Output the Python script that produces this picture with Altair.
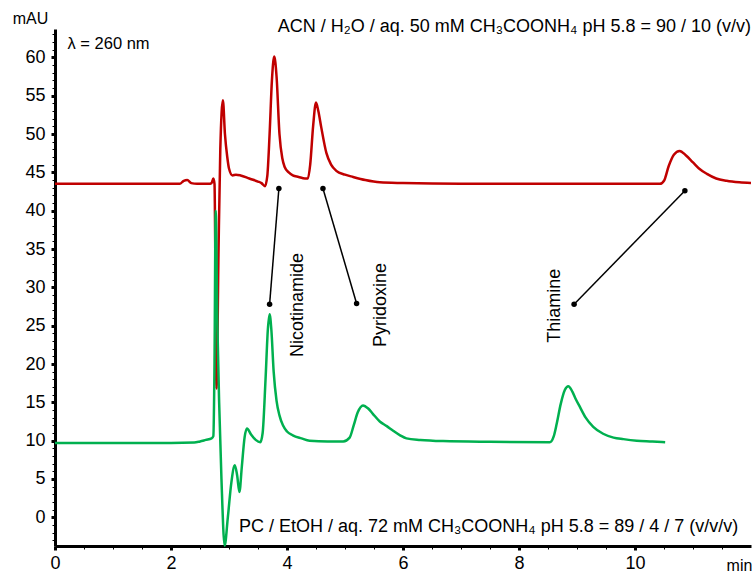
import altair as alt
import pandas as pd

# ---- data ----
red_t = [0.0, 1.0, 2.0, 2.15, 2.22, 2.28, 2.35, 2.45, 2.65, 2.70, 2.73, 2.75, 2.785, 2.82, 2.85, 2.895,
         2.93, 2.97, 3.0, 3.06, 3.12, 3.2, 3.35, 3.5, 3.56, 3.62, 3.66, 3.70, 3.74, 3.78, 3.82, 3.87,
         3.92, 3.96, 4.03, 4.10, 4.2, 4.31, 4.36, 4.40, 4.45, 4.50, 4.54, 4.59, 4.68, 4.76, 4.85, 5.0,
         5.14, 5.35, 5.6, 6.0, 7.0, 8.0, 9.0, 10.0, 10.43, 10.5, 10.58, 10.67, 10.77, 10.88, 11.0,
         11.12, 11.24, 11.4, 11.58, 11.8, 12.0]
red_v = [43.5, 43.5, 43.5, 43.5, 43.9, 44.0, 43.6, 43.5, 43.5, 43.6, 44.2, 43.5, 16.8, 35.0, 48.0, 54.4,
         50.0, 47.0, 45.5, 44.6, 44.7, 44.6, 44.2, 43.8, 43.6, 43.2, 44.5, 50.0, 57.0, 60.1, 57.5, 50.0,
         46.8, 45.7, 45.0, 44.6, 44.4, 44.2, 44.2, 46.0, 51.0, 54.1, 53.0, 50.9, 47.5, 46.0, 45.2, 44.7,
         44.4, 44.0, 43.7, 43.6, 43.5, 43.5, 43.5, 43.5, 43.5, 43.9, 45.8, 47.3, 47.8, 47.2, 46.3,
         45.4, 44.8, 44.2, 43.9, 43.7, 43.6]

green_t = [0.0, 1.0, 2.0, 2.4, 2.5, 2.6, 2.7, 2.73, 2.75, 2.77, 2.80, 2.83, 2.87, 2.925, 2.98, 3.04,
           3.10, 3.14, 3.18, 3.22, 3.27, 3.31, 3.38, 3.46, 3.54, 3.58, 3.63, 3.67, 3.70, 3.73, 3.77,
           3.82, 3.87, 3.93, 4.0, 4.10, 4.25, 4.39, 4.7, 4.97, 5.08, 5.15, 5.22, 5.31, 5.40, 5.48, 5.6,
           5.72, 5.83, 5.95, 6.06, 6.3, 6.69, 7.5, 8.53, 8.60, 8.65, 8.72, 8.79, 8.85, 8.92, 8.98, 9.05,
           9.15, 9.28, 9.45, 9.63, 9.8, 10.03, 10.3, 10.52]
green_v = [9.7, 9.7, 9.7, 9.75, 9.9, 10.1, 10.3, 10.6, 20.0, 40.0, 25.0, 15.0, 5.0, -3.7, 0.0, 4.5,
           6.8, 5.5, 3.3, 6.5, 10.5, 11.6, 10.8, 10.1, 9.8, 11.0, 18.0, 24.5, 26.5, 24.5, 19.0,
           15.2, 13.3, 12.0, 11.2, 10.7, 10.3, 10.0, 9.9, 9.9, 10.4, 12.0, 13.7, 14.6, 14.2, 13.5, 12.5,
           11.9, 11.3, 10.7, 10.3, 10.1, 9.95, 9.85, 9.8, 10.6, 12.2, 14.8, 16.6, 17.1, 16.4, 15.4, 14.4,
           13.0, 11.8, 10.9, 10.4, 10.2, 10.0, 9.9, 9.8]

compounds = ["Nicotinamide", "Pyridoxine", "Thiamine"]
lead_x1 = [3.86, 4.62, 10.86]
lead_y1 = [42.9, 42.9, 42.6]
lead_x2 = [3.70, 5.20, 8.95]
lead_y2 = [27.8, 27.9, 27.8]
label_x = [4.27, 5.70, 8.71]
label_y = [27.7, 27.7, 27.6]

x_major = [0, 2, 4, 6, 8, 10]
x_minor = [0.5, 1, 1.5, 2.5, 3, 3.5, 4.5, 5, 5.5, 6.5, 7, 7.5, 8.5, 9, 9.5, 10.5, 11, 11.5]
y_major = [0, 5, 10, 15, 20, 25, 30, 35, 40, 45, 50, 55, 60]
y_minor = [v for v in range(-3, 64) if v % 5 != 0]

top_note = "ACN / H₂O / aq. 50 mM CH₃COONH₄ pH 5.8 = 90 / 10 (v/v)"
bottom_note = "PC / EtOH / aq. 72 mM CH₃COONH₄ pH 5.8 = 89 / 4 / 7 (v/v/v)"
lambda_note = "λ = 260 nm"

FONT = "Liberation Sans"
X = alt.Scale(domain=[0, 12], nice=False, zero=False)
Y = alt.Scale(domain=[-3.74, 63.7], nice=False, zero=False)

red_df = pd.DataFrame({"t": red_t, "v": red_v})
green_df = pd.DataFrame({"t": green_t, "v": green_v})
lead_df = pd.DataFrame({"c": compounds, "x1": lead_x1, "y1": lead_y1, "x2": lead_x2, "y2": lead_y2})
lab_df = pd.DataFrame({"c": compounds, "x": label_x, "y": label_y})

red = alt.Chart(red_df).mark_line(color="#c00000", strokeWidth=2.5, interpolate="monotone").encode(
    x=alt.X("t:Q", scale=X, axis=alt.Axis(values=x_major, title="min", orient="bottom",
            domainWidth=3, domainColor="black", tickColor="black", tickWidth=3, tickSize=4,
            labelPadding=4, labelFontSize=18, labelFont=FONT, labelColor="black", grid=False,
            labelFlush=False, labelOverlap=False,
            titleFont=FONT, titleFontSize=16, titleFontWeight="normal", titleColor="black",
            titleAnchor="start", titleX=684, titleY=24, titleAlign="center", titleBaseline="alphabetic")),
    y=alt.Y("v:Q", scale=Y, axis=alt.Axis(values=y_major, title="mAU", orient="left",
            domainWidth=3, domainColor="black", tickColor="black", tickWidth=3, tickSize=4,
            labelPadding=6, labelFontSize=18, labelFont=FONT, labelColor="black", grid=False,
            labelFlush=False, labelOverlap=False,
            titleFont=FONT, titleFontSize=16, titleFontWeight="normal", titleColor="black",
            titleAngle=0, titleX=-25, titleY=-6, titleAlign="center", titleBaseline="alphabetic")),
)

green = alt.Chart(green_df).mark_line(color="#00b04f", strokeWidth=2.5, interpolate="monotone").encode(
    x=alt.X("t:Q", scale=X, axis=alt.Axis(values=x_minor, orient="bottom", title=None, labels=False,
            domain=False, grid=False, tickColor="black", tickWidth=1, tickSize=3)),
    y=alt.Y("v:Q", scale=Y, axis=alt.Axis(values=y_minor, orient="left", title=None, labels=False,
            domain=False, grid=False, tickColor="black", tickWidth=1, tickSize=3)),
)

leads = alt.Chart(lead_df).mark_rule(color="black", strokeWidth=1.5).encode(
    x=alt.X("x1:Q", scale=X, axis=None), y=alt.Y("y1:Q", scale=Y, axis=None),
    x2="x2:Q", y2="y2:Q")
dots1 = alt.Chart(lead_df).mark_circle(color="black", size=30, opacity=1).encode(
    x=alt.X("x1:Q", scale=X, axis=None), y=alt.Y("y1:Q", scale=Y, axis=None))
dots2 = alt.Chart(lead_df).mark_circle(color="black", size=30, opacity=1).encode(
    x=alt.X("x2:Q", scale=X, axis=None), y=alt.Y("y2:Q", scale=Y, axis=None))

labels = alt.Chart(lab_df).mark_text(angle=270, align="center", baseline="alphabetic",
                                     font=FONT, fontSize=18, color="black").encode(
    x=alt.X("x:Q", scale=X, axis=None), y=alt.Y("y:Q", scale=Y, axis=None), text="c:N")

notes_df = pd.DataFrame({
    "txt": [top_note, bottom_note],
    "x": [12.0, 11.78],
    "y": [63.9, -1.3],
})
notes = alt.Chart(notes_df).mark_text(align="right", baseline="middle", font=FONT, fontSize=18,
                                      color="black").encode(
    x=alt.X("x:Q", scale=X, axis=None), y=alt.Y("y:Q", scale=Y, axis=None), text="txt:N")

lam = alt.Chart(pd.DataFrame({"txt": [lambda_note], "x": [0.216], "y": [61.8]})).mark_text(
    align="left", baseline="middle", font=FONT, fontSize=16.5, color="black").encode(
    x=alt.X("x:Q", scale=X, axis=None), y=alt.Y("y:Q", scale=Y, axis=None), text="txt:N")

chart = alt.layer(red, green, leads, dots1, dots2, labels, notes, lam).resolve_axis(
    x="independent", y="independent"
).properties(
    width=696, height=517,
    autosize=alt.AutoSizeParams(type="none"),
    padding={"left": 55, "top": 29, "right": 2, "bottom": 27},
    background="white",
).configure_view(stroke=None)

chart.save("out.html", embed_options={"renderer": "svg", "actions": False})
